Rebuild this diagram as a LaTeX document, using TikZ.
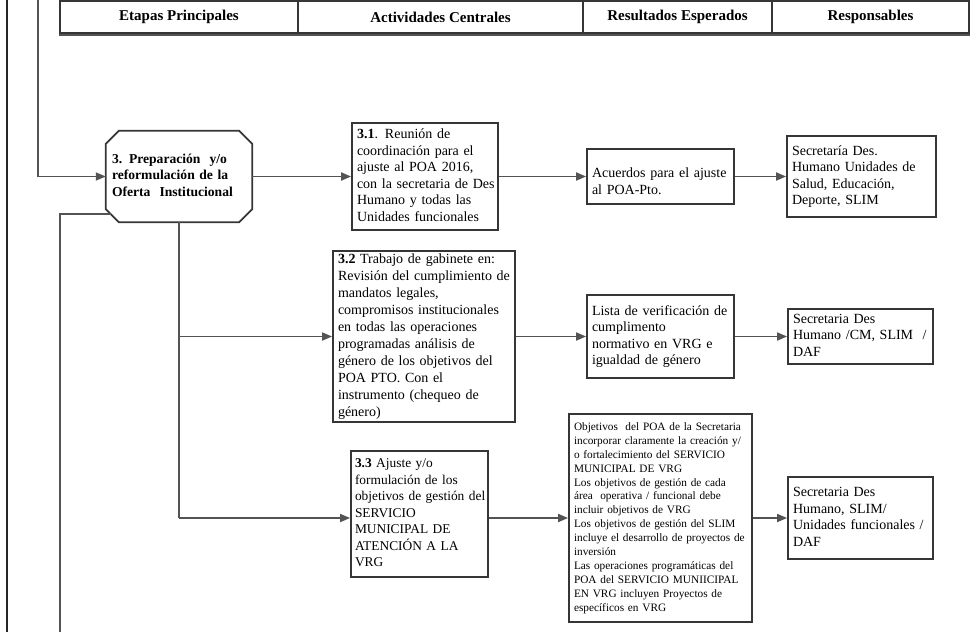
\documentclass[tikz,border=0pt]{standalone}
\usepackage{fontspec}
\setmainfont{Liberation Serif}
\usetikzlibrary{arrows.meta,calc}
\definecolor{boxc}{HTML}{363636}
\definecolor{linec}{HTML}{535353}
\definecolor{bordc}{HTML}{262626}
\newcommand{\tlines}[1]{\noindent\begin{tabular}{@{}l@{}}#1\end{tabular}}
\begin{document}
\begin{tikzpicture}[x=1pt,y=1pt,
  bx/.style={draw=boxc, line width=1.8pt, fill=white, rectangle, inner xsep=5pt, inner ysep=0pt, align=left, font=\fontsize{14}{16.5}\selectfont},
  conn/.style={draw=linec, line width=1.7pt},
  arr/.style={conn, -{Triangle[length=10pt,width=8pt]}},
  hd/.style={draw=boxc, line width=1.3pt, minimum height=32pt, inner sep=0pt, font=\bfseries\fontsize{15}{17}\selectfont}
]
\useasboundingbox (0,0) rectangle (978,-632);

% header
\node[hd, minimum width=238pt] (h1) at (179,-17) {Etapas Principales};
\node[hd, minimum width=285pt] (h2) at (440.5,-17) {Actividades Centrales};
\node[hd, minimum width=189pt] (h3) at (677.5,-17) {Resultados Esperados};
\node[hd, minimum width=197pt] (h4) at (870.5,-17) {Responsables};
\draw[line width=1.6pt, linec] ($(h1.south west)+(0,-1.5)$) -- ($(h4.south east)+(0,-1.5)$);

% octagon
\node[inner sep=0pt, minimum width=146pt, minimum height=91pt, text width=134pt, align=left, font=\bfseries\fontsize{13.6}{16.5}\selectfont] (oct) at (179,-176.5) {\tlines{3. Preparación~ y/o\\reformulación de la\\Oferta~ Institucional}};
\draw[draw=boxc, line width=1.8pt] ($(oct.north west)+(13,0)$) -- ($(oct.north east)+(-13,0)$) -- ($(oct.north east)+(0,-13)$) -- ($(oct.south east)+(0,13)$) -- ($(oct.south east)+(-13,0)$) -- ($(oct.south west)+(13,0)$) -- ($(oct.south west)+(0,13)$) -- ($(oct.north west)+(0,-13)$) -- cycle;

% activities
\node[bx, minimum width=146pt, minimum height=107pt, text width=136pt] (b31) at (425,-176.5) {\tlines{\textbf{3.1}. Reunión de\\coordinación para el\\ajuste al POA 2016,\\con la secretaria de Des\\Humano y todas las\\Unidades funcionales}};
\node[bx, font=\fontsize{14}{17}\selectfont, minimum width=182pt, minimum height=171pt, text width=172pt] (b32) at (424,-336.5) {\tlines{\textbf{3.2} Trabajo de gabinete en:\\Revisión del cumplimiento de\\mandatos legales,\\compromisos institucionales\\en todas las operaciones\\programadas análisis de\\género de los objetivos del\\POA PTO. Con el\\instrumento (chequeo de\\género)}};
\node[bx, inner xsep=4pt, font=\fontsize{13.4}{16.5}\selectfont, minimum width=137pt, minimum height=126pt, text width=129pt] (b33) at (419.5,-514) {\tlines{\textbf{3.3} Ajuste y/o\\formulación de los\\objetivos de gestión del\\SERVICIO\\MUNICIPAL DE\\ATENCIÓN A LA\\VRG}};

% results
\node[bx, minimum width=147pt, minimum height=55pt, text width=137pt] (acu) at (660.5,-176.5) {\raisebox{-6pt}[\height][\depth]{\tlines{Acuerdos para el ajuste\\al POA-Pto.}}};
\node[bx, minimum width=147pt, minimum height=83pt, text width=137pt] (lista) at (660.5,-336.5) {\tlines{Lista de verificación de\\cumplimento\\normativo en VRG e\\igualdad de género}};
\node[bx, font=\fontsize{11.3}{13.9}\selectfont, minimum width=183pt, minimum height=208pt, text width=173pt] (obj) at (660.5,-518) {\tlines{Objetivos~ del POA de la Secretaria\\incorporar claramente la creación y/\\o fortalecimiento del SERVICIO\\MUNICIPAL DE VRG\\Los objetivos de gestión de cada\\área~ operativa / funcional debe\\incluir objetivos de VRG\\Los objetivos de gestión del SLIM\\incluye el desarrollo de proyectos de\\inversión\\Las operaciones programáticas del\\POA del SERVICIO MUNIICIPAL\\EN VRG incluyen Proyectos de\\específicos en VRG}};

% responsables
\node[bx, minimum width=149pt, minimum height=81pt, text width=139pt] (r1) at (861.5,-176.5) {\tlines{Secretaría Des.\\Humano Unidades de\\Salud, Educación,\\Deporte, SLIM}};
\node[bx, minimum width=145pt, minimum height=55pt, text width=135pt] (r2) at (860.5,-336.5) {\tlines{Secretaria Des\\Humano /CM, SLIM~ /\\DAF}};
\node[bx, minimum width=145pt, minimum height=82pt, text width=135pt] (r3) at (860.5,-518) {\tlines{Secretaria Des\\Humano, SLIM/\\Unidades funcionales /\\DAF}};

% coordinates
\coordinate (bT) at (7,0);
\coordinate (bB) at (7,-632);
\coordinate (inTop) at (38,0);
\coordinate (octbl) at (111,-214);
\coordinate (lowL) at (60,-632);
\coordinate (j2) at (oct.south |- b32.west);
\coordinate (j3) at (oct.south |- obj.west);

% connectors
\draw[line width=2pt, bordc] (bT) -- (bB);
\draw[arr] (inTop) |- (oct.west);
\draw[conn] (octbl) -| (lowL);
\draw[conn] (oct.south) -- (j3);
\draw[arr] (oct.east) -- (b31.west);
\draw[arr] (b31.east) -- (acu.west);
\draw[arr] (acu.east) -- (r1.west);
\draw[arr] (j2) -- (b32.west);
\draw[arr] (b32.east) -- (lista.west);
\draw[arr] (lista.east) -- (r2.west);
\draw[arr] (j3) -- (j3 -| b33.west);
\draw[arr] (b33.east |- obj.west) -- (obj.west);
\draw[arr] (obj.east) -- (r3.west);
\end{tikzpicture}
\end{document}
